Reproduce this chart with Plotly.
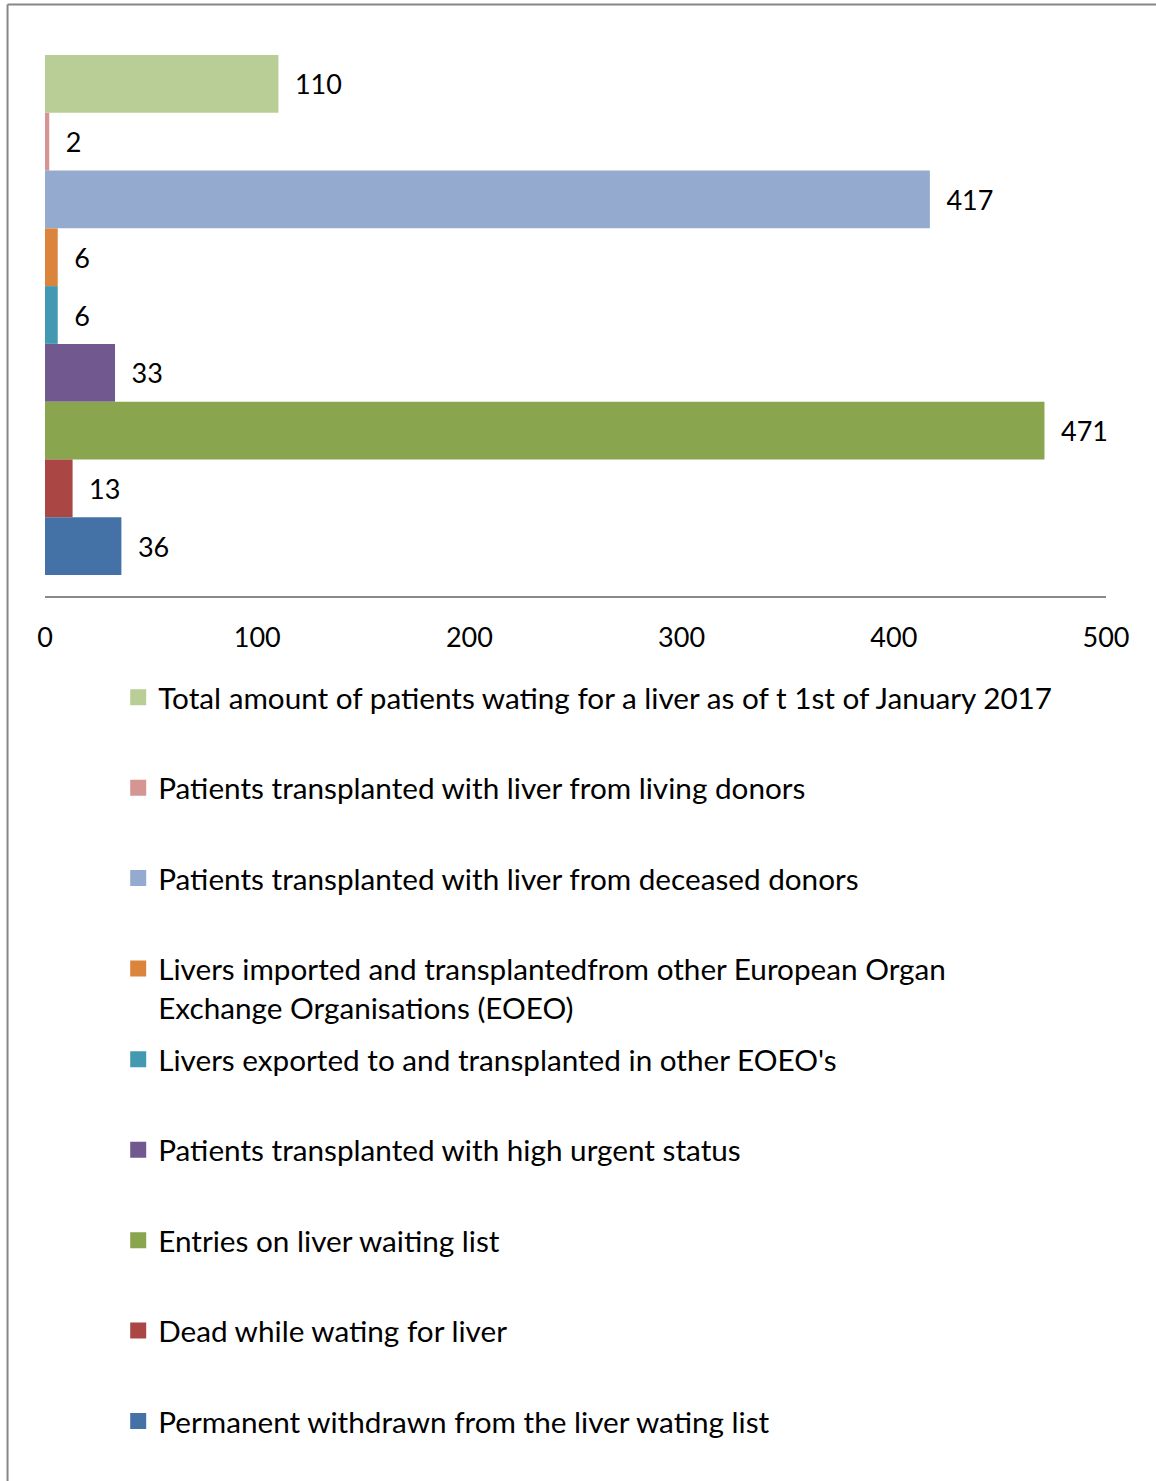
import plotly.graph_objects as go

# Series (top bar first)
names = [
    "Total amount of patients wating for a liver as of t 1st of January 2017",
    "Patients transplanted with liver from living donors",
    "Patients transplanted with liver from deceased donors",
    "Livers imported and transplantedfrom other European Organ<br>Exchange Organisations (EOEO)",
    "Livers exported to and transplanted in other EOEO's",
    "Patients transplanted with high urgent status",
    "Entries on liver waiting list",
    "Dead while wating for liver",
    "Permanent withdrawn from the liver wating list",
]
values = [110, 2, 417, 6, 6, 33, 471, 13, 36]
colors = ["#B9CE96", "#D59593", "#95AACF", "#DA843C", "#4399B1",
          "#71588F", "#89A54E", "#AA4644", "#4471A6"]
category = ["2017"]
x_ticks = [0, 100, 200, 300, 400, 500]

FONT = "Lato"

fig = go.Figure()
for i, (name, val, col) in enumerate(zip(names, values, colors)):
    fig.add_trace(go.Bar(
        x=[val],
        y=category,
        orientation="h",
        name=name,
        legendgroup=f"g{i}",
        showlegend=False,
        marker=dict(color=col, line=dict(width=0)),
        text=[val],
        texttemplate="\u2002%{x}",
        textposition="outside",
        textfont=dict(family=FONT, size=27, color="black"),
        cliponaxis=False,
    ))

# legend-only entries so the swatches come out as larger squares
for i, (name, col) in enumerate(zip(names, colors)):
    fig.add_trace(go.Scatter(
        x=[None],
        y=[None],
        mode="markers",
        name=name,
        legendgroup=f"g{i}",
        legend="legend" if i < 4 else "legend2",
        marker=dict(symbol="square", size=16, color=col),
        hoverinfo="skip",
    ))

legend_style = dict(
    font=dict(family=FONT, size=29.7, color="black"),
    traceorder="grouped",
    tracegroupgap=48.8,
    valign="top",
    xanchor="left",
    yanchor="top",
    bgcolor="rgba(0,0,0,0)",
    x=0.069,
)

fig.update_layout(
    width=1156,
    height=1481,
    margin=dict(l=45, r=50, t=34, b=885),
    paper_bgcolor="white",
    plot_bgcolor="white",
    barmode="group",
    bargap=0.075,
    bargroupgap=0,
    font=dict(family=FONT, size=27, color="black"),
    xaxis=dict(
        range=[0, 500],
        tickvals=x_ticks,
        showgrid=False,
        zeroline=False,
        showline=True,
        linecolor="#898989",
        linewidth=2,
        ticks="",
        ticklabelstandoff=17,
        tickfont=dict(family=FONT, size=27, color="black"),
    ),
    yaxis=dict(
        autorange="reversed",
        showticklabels=False,
        showgrid=False,
        zeroline=False,
        showline=False,
    ),
    legend=dict(legend_style, y=-0.1343),
    legend2=dict(legend_style, y=-0.7785),
    shapes=[
        dict(type="line", xref="paper", yref="paper",
             x0=-0.0353, x1=-0.0353, y0=-2.0, y1=1.0525,
             line=dict(color="#878787", width=2)),
        dict(type="line", xref="paper", yref="paper",
             x0=-0.0353, x1=1.2, y0=1.0525, y1=1.0525,
             line=dict(color="#878787", width=2)),
    ],
)

# drop the default page margin so the chart sits at the window's corner
fig.write_html(
    "out.html",
    config={"displayModeBar": False},
    post_script="document.body.style.margin='0';document.body.style.overflow='hidden';",
)
